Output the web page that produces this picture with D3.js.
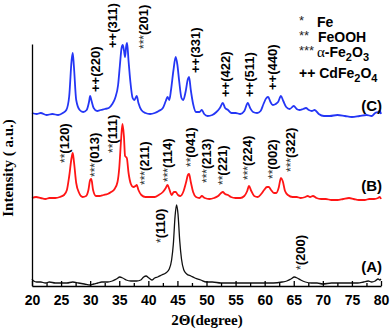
<!DOCTYPE html>
<head>
  <meta charset="utf-8">
  <script src="https://d3js.org/d3.v7.min.js"></script>
  <style>
    body { margin: 0; background: #fff; }
    text { font-family: "Liberation Sans", Arial, sans-serif; }
  </style>
</head>
<body>
  <div id="xrd"></div>
  <script>
    // XRD patterns, [2theta, intensity (a.u.)]
    var curveA = [[20,7],[20.3,5],[20.8,4],[21.5,4],[22.3,3],[23,4],[24,3],[25,3],[26,3],[27,4],[28,3],[29,2],[30,1],[30.6,2],[31.3,3],[32,4],[33,4],[33.8,5],[34.5,7],[35.1,9],[35.6,8],[36.2,6],[37,5],[38,5],[38.7,6],[39.2,9],[39.6,10],[40.1,8],[40.6,6],[41.1,8],[41.6,9],[42.3,11],[43,13],[43.6,17],[44.0,26],[44.3,42],[44.6,70],[44.85,81],[45.1,72],[45.4,45],[45.7,27],[46.1,16],[46.6,12],[47.3,10],[48,8],[49,6],[50,4],[51,4],[52.5,3],[54,3],[55.5,3],[57,3],[58.5,3],[60,3],[61.5,3],[63,4],[63.8,5],[64.5,7],[65.1,9],[65.6,8],[66.2,6],[67,4],[68,3],[69,3],[70,2],[71.5,3],[73,3],[74.5,3],[76,3],[77,4],[77.8,5],[78.4,4],[79,5],[79.5,7],[79.8,6],[80,7]];

    var curveB = [[20,88],[20.7,89],[21.5,88],[22.3,87],[23.0,88],[24.0,88],[24.8,89],[25.5,91],[26.0,96],[26.4,110],[26.8,128],[27.0,133],[27.2,125],[27.6,103],[28.1,93],[28.7,89],[29.3,90],[29.7,96],[30.0,106],[30.2,107],[30.5,96],[31.0,90],[31.6,90],[32.3,91],[33.0,92],[33.6,94],[34.2,97],[34.7,104],[35.0,118],[35.3,145],[35.55,162],[35.8,150],[36.0,130],[36.3,128],[36.6,113],[37.0,102],[37.4,99],[37.8,100],[38.0,101],[38.3,96],[38.8,91],[39.5,89],[40.3,89],[41.1,89],[41.8,91],[42.5,94],[43.0,98],[43.3,101],[43.6,97],[44.0,91],[44.4,94],[44.7,94],[45.1,91],[45.5,90],[46.0,94],[46.5,104],[46.8,111],[47.0,112],[47.3,104],[47.7,94],[48.2,89],[48.8,88],[49.2,90],[49.7,88],[50.5,87],[51.3,88],[52.0,90],[52.5,93],[52.8,94],[53.2,92],[53.7,91],[54.2,89],[55.0,88],[55.8,88],[56.5,90],[57.0,95],[57.3,100],[57.7,95],[58.2,90],[58.8,89],[59.4,92],[59.9,96],[60.4,99],[60.7,99],[61.1,96],[61.6,93],[62.0,93],[62.4,98],[62.8,108],[63.1,105],[63.5,95],[64.0,91],[64.8,89],[65.5,89],[66.2,88],[67.0,89],[67.4,90],[67.8,89],[68.3,90],[68.9,88],[69.7,87],[70.5,87],[71.5,86],[72.5,86],[73.5,87],[74.5,88],[75.3,87],[76.2,86],[77.2,86],[78.0,87],[78.8,87],[79.5,88],[79.8,89],[80,87]];

    var curveC = [[20,173],[20.8,172],[21.5,173],[22.5,171],[23.5,172],[24.5,171],[25.3,173],[25.9,176],[26.4,190],[26.8,225],[27.0,233],[27.2,220],[27.6,186],[28.2,176],[28.8,174],[29.4,176],[29.8,184],[30.0,190],[30.2,186],[30.6,178],[31.2,175],[31.8,176],[32.5,177],[33.2,178],[33.8,182],[34.3,188],[34.8,201],[35.1,220],[35.4,238],[35.6,241],[35.8,236],[36.0,229],[36.2,240],[36.35,243],[36.6,225],[36.9,205],[37.3,188],[37.6,186],[38.0,190],[38.3,183],[38.8,176],[39.5,173],[40.3,172],[41.1,173],[41.8,175],[42.5,178],[43.0,185],[43.3,189],[43.6,186],[43.9,196],[44.3,215],[44.7,229],[45.0,221],[45.3,205],[45.7,188],[46.0,186],[46.4,194],[46.8,207],[47.0,209],[47.3,196],[47.7,182],[48.2,174],[48.8,174],[49.2,176],[49.6,172],[50.2,170],[51.0,171],[51.7,174],[52.3,178],[52.8,183],[53.2,178],[53.7,176],[54.3,173],[55.0,173],[55.8,172],[56.5,175],[57.1,183],[57.5,178],[58.0,174],[58.7,173],[59.3,175],[59.8,182],[60.3,188],[60.6,189],[61.0,184],[61.4,181],[61.9,182],[62.3,184],[62.8,190],[63.2,185],[63.7,179],[64.3,177],[65.0,180],[65.5,177],[66.0,176],[66.6,177],[67.1,178],[67.6,176],[68.1,175],[68.6,176],[69.3,172],[70.2,170],[71.2,170],[72.5,171],[73.8,170],[75.0,169],[76.3,170],[77.5,171],[78.4,170],[79.0,173],[79.5,174],[79.8,175],[80,172]];

    // peak labels: [marker, hkl, 2theta, intensity at label foot]
    var labelsA = [["*", "(110)", 42.0, 43], ["*", "(200)", 66.05, 16]];
    var labelsB = [["**", "(120)", 25.5, 123], ["***", "(013)", 30.65, 109], ["**", "(111)", 33.75, 133],
                   ["***", "(211)", 39.25, 101], ["***", "(114)", 43.2, 104], ["**", "(041)", 47.15, 119],
                   ["***", "(213)", 49.9, 103], ["**", "(221)", 52.8, 101], ["***", "(224)", 57.1, 106],
                   ["**", "(002)", 61.25, 107], ["***", "(322)", 64.35, 114]];
    var labelsC = [["++", "(220)", 30.8, 194], ["++", "(311)", 33.75, 238], ["***", "(201)", 39.1, 237],
                   ["++", "(331)", 48.0, 213], ["++", "(422)", 53.2, 189], ["++", "(511)", 57.3, 189],
                   ["++", "(440)", 61.25, 196]];

    var xTicks = d3.range(20, 81, 5);

    var width = 392, height = 331;
    var svg = d3.select("#xrd").append("svg")
        .attr("width", width)
        .attr("height", height);

    var x = d3.scaleLinear().domain([20, 80]).range([32, 381]);
    var y = d3.scaleLinear().domain([0, 242]).range([286, 44]);

    var line = d3.line()
        .x(function(d) { return x(d[0]); })
        .y(function(d) { return y(d[1]); })
        .curve(d3.curveMonotoneX);

    // curves
    var series = [
        {data: curveC, colour: "#2436f5", w: 1.8},
        {data: curveB, colour: "#ff1515", w: 1.8},
        {data: curveA, colour: "#111111", w: 1.3}
    ];
    series.forEach(function(s) {
        svg.append("path")
            .datum(s.data)
            .attr("fill", "none")
            .attr("stroke", s.colour)
            .attr("stroke-width", s.w)
            .attr("stroke-linejoin", "round")
            .attr("d", line);
    });

    // axes
    svg.append("g")
        .attr("transform", "translate(0,286)")
        .call(d3.axisBottom(x).tickValues(d3.range(22.5, 80, 5)).tickSize(-3).tickFormat(""))
        .call(function(g) { g.select(".domain").remove(); });

    var xAxis = svg.append("g")
        .attr("transform", "translate(0,286)")
        .call(d3.axisBottom(x).tickValues(xTicks).tickSize(-5).tickSizeOuter(0).tickPadding(9));
    xAxis.selectAll("text")
        .style("font-family", "Liberation Sans, Arial, sans-serif")
        .style("font-weight", "bold")
        .style("font-size", "14px")
        .attr("fill", "#000");
    svg.selectAll(".domain, .tick line").attr("stroke", "#000").attr("stroke-width", 1.3);

    svg.append("g")
        .attr("transform", "translate(32,0)")
        .call(d3.axisLeft(y).tickValues([]).tickSizeOuter(0))
        .select(".domain").attr("stroke", "#000").attr("stroke-width", 1.3);

    // axis titles
    svg.append("text")
        .attr("x", 207).attr("y", 325)
        .attr("text-anchor", "middle")
        .style("font-family", "Liberation Serif, Times New Roman, serif")
        .style("font-weight", "bold")
        .style("font-size", "15px")
        .text("2\u0398(degree)");

    svg.append("text")
        .attr("transform", "translate(13,168) rotate(-90)")
        .attr("text-anchor", "middle")
        .style("font-family", "Liberation Serif, Times New Roman, serif")
        .style("font-weight", "bold")
        .style("font-size", "15px")
        .text("Intensity ( a.u.)");

    // peak labels, rotated
    function peakLabels(list) {
        list.forEach(function(l) {
            var t = svg.append("text")
                .attr("transform", "translate(" + x(l[2]) + "," + y(l[3]) + ") rotate(-90)")
                .attr("dy", "0.36em")
                .style("font-weight", "bold")
                .style("font-size", "13px");
            var star = l[0].indexOf("*") > -1;
            t.append("tspan")
                .style("font-size", star ? "12px" : "13px")
                .style("font-weight", star ? "normal" : "bold")
                .attr("fill", star ? "#333" : "#000")
                .text(l[0]);
            t.append("tspan").text(l[1]);
        });
    }
    peakLabels(labelsA);
    peakLabels(labelsB);
    peakLabels(labelsC);

    // sample names
    [["(C)", 111], ["(B)", 191], ["(A)", 272]].forEach(function(s) {
        svg.append("text")
            .attr("x", 382).attr("y", s[1])
            .attr("text-anchor", "end")
            .style("font-weight", "bold")
            .style("font-size", "15px")
            .text(s[0]);
    });

    // legend
    function legendStar(txt, yy) {
        svg.append("text")
            .attr("x", 299).attr("y", yy)
            .style("font-size", "13px")
            .attr("fill", "#222")
            .text(txt);
    }
    legendStar("*", 25);
    legendStar("**", 40);
    legendStar("***", 55);

    svg.append("text").attr("x", 317).attr("y", 27)
        .style("font-weight", "bold").style("font-size", "14px").text("Fe");
    svg.append("text").attr("x", 318).attr("y", 42)
        .style("font-weight", "bold").style("font-size", "14px").text("FeOOH");

    var hem = svg.append("text").attr("x", 317).attr("y", 57)
        .style("font-weight", "bold").style("font-size", "14px");
    hem.append("tspan").style("font-family", "Liberation Serif, serif").style("font-weight", "normal")
        .style("font-size", "15px").text("\u03b1");
    hem.append("tspan").text("-Fe");
    hem.append("tspan").attr("dy", 4).style("font-size", "11px").text("2");
    hem.append("tspan").attr("dy", -4).text("O");
    hem.append("tspan").attr("dy", 4).style("font-size", "11px").text("3");

    var cdf = svg.append("text").attr("x", 299).attr("y", 78)
        .style("font-weight", "bold").style("font-size", "14px");
    cdf.append("tspan").text("++ CdFe");
    cdf.append("tspan").attr("dy", 4).style("font-size", "11px").text("2");
    cdf.append("tspan").attr("dy", -4).text("O");
    cdf.append("tspan").attr("dy", 4).style("font-size", "11px").text("4");
  </script>
</body>
